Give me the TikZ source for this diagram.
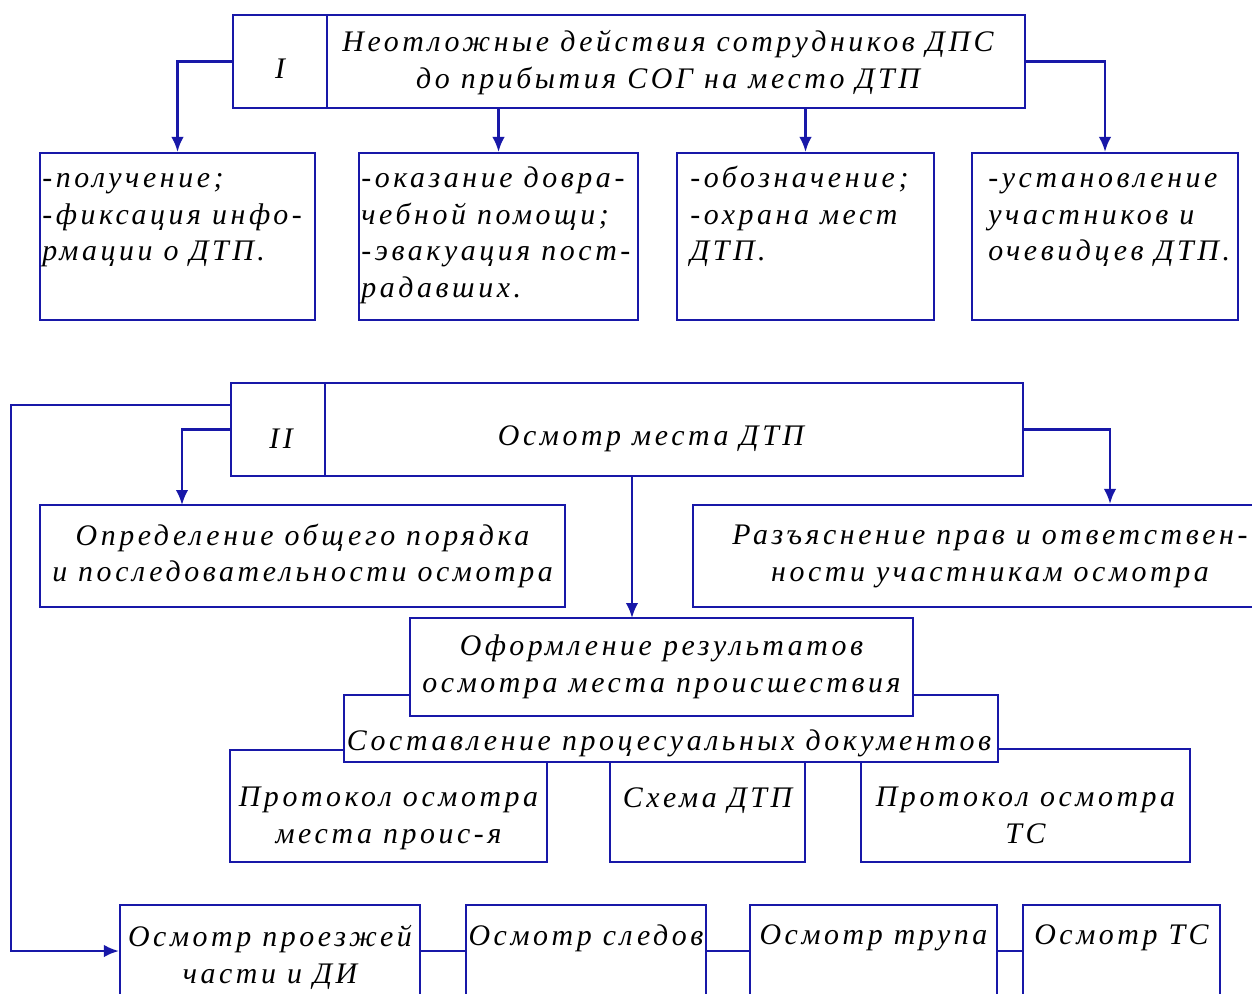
\documentclass[tikz,border=0pt]{standalone}
\usepackage{fontspec}
\setmainfont{Liberation Serif}[LetterSpace=12]
\usepackage{tikz}
\usetikzlibrary{arrows.meta}
\definecolor{schemeblue}{RGB}{24,24,168}
\tikzstyle{box}=[draw=schemeblue, line width=1.2pt, fill=white, inner sep=0pt, font=\fontsize{17}{21}\selectfont\itshape, align=center]
\tikzstyle{boxsize}=[minimum width=#1*0.02cm]
\tikzstyle{boxh}=[minimum height=#1*0.02cm]
\tikzstyle{txt}=[inner sep=0pt, font=\fontsize{17}{21}\selectfont\itshape, align=left]
\tikzstyle{arrow}=[draw=schemeblue, line width=1.4pt, -{Latex[length=3mm, width=2.5mm]}]
\tikzstyle{link}=[draw=schemeblue, line width=1.4pt]

\begin{document}
\begin{tikzpicture}[x=0.02cm, y=-0.02cm]
		\useasboundingbox (0,0) rectangle (1252,994);
		\fill[white] (0,0) rectangle (1252,994);
		\clip (0,0) rectangle (1252,994);

		\node (numI) at (280,61.5)[box, boxsize=94, boxh=93] {};
		\node (headI) at (676,61.5)[box, boxsize=698, boxh=93] {};
		\node (numIt) at (280,69)[txt] {I};
		\node (headIt) at (668,63)[txt, align=center] {Неотложные действия сотрудников ДПС\\до прибытия СОГ на место ДТП};

		\node (b1) at (177.5,236.5)[box, boxsize=275, boxh=167] {};
		\node (b2) at (498.5,236.5)[box, boxsize=279, boxh=167] {};
		\node (b3) at (805.5,236.5)[box, boxsize=257, boxh=167] {};
		\node (b4) at (1105,236.5)[box, boxsize=266, boxh=167] {};
		\node (b1t) at (42,161)[txt, anchor=north west] {\strut-получение;\\-фиксация инфо-\\рмации о ДТП.};
		\node (b2t) at (361,161)[txt, anchor=north west] {\strut-оказание довра-\\чебной помощи;\\-эвакуация пост-\\радавших.};
		\node (b3t) at (690,161)[txt, anchor=north west] {\strut-обозначение;\\-охрана мест\\ДТП.};
		\node (b4t) at (988,161)[txt, anchor=north west] {\strut-установление\\участников и\\очевидцев ДТП.};

		\draw[arrow] (numI.west) -| (b1.north);
		\draw[arrow] (headI.south -| b2.north) -- (b2.north);
		\draw[arrow] (headI.south -| b3.north) -- (b3.north);
		\draw[arrow] (headI.east) -| (b4.north);

		\node (numII) at (278,429.5)[box, boxsize=94, boxh=93] {};
		\node (headII) at (674,429.5)[box, boxsize=698, boxh=93] {};
		\node (numIIt) at (281,439)[txt] {II};
		\node (headIIt) at (651,439)[txt] {Осмотр места ДТП};

		\node (opr) at (302.5,556)[box, boxsize=525, boxh=102] {Определение общего порядка\\и последовательности осмотра};
		\node (raz) at (1110,556)[box, boxsize=834, boxh=102] {};
		\node (razt) at (990,556)[txt, align=center] {Разъяснение прав и ответствен-\\ности участникам осмотра};

		\node (pro1) at (388.5,806)[box, boxsize=317, boxh=112] {};
		\node (proTS) at (1025.5,805.5)[box, boxsize=329, boxh=113] {};
		\node (pro1t) at (388.5,818)[txt, align=center] {Протокол осмотра\\места проис-я};
		\node (proTSt) at (1025.5,815)[txt, align=center] {Протокол осмотра\\ТС};
		\node (sost) at (671,728.5)[box, boxsize=654, boxh=67] {};
		\node (sostt) at (669,743)[txt] {Составление процесуальных документов};
		\node (ofor) at (661.5,667)[box, boxsize=503, boxh=98] {Оформление результатов\\осмотра места происшествия};
		\node (shema) at (707.5,812)[box, boxsize=195, boxh=100] {};
		\node (shemat) at (707.5,801)[txt] {Схема ДТП};

		\coordinate (oprin) at (182,505);
		\coordinate (oforin) at (632,618);
		\coordinate (loopa) at (231,405);
		\coordinate (loopb) at (11,405);

		\node (ins1) at (270,951)[box, boxsize=300, boxh=92] {};
		\node (ins2) at (586,951)[box, boxsize=240, boxh=92] {};
		\node (ins3) at (873.5,951)[box, boxsize=247, boxh=92] {};
		\node (ins4) at (1121.5,951)[box, boxsize=197, boxh=92] {};
		\node (ins1t) at (270,957)[txt, align=center] {Осмотр проезжей\\части и ДИ};
		\node (ins2t) at (586,938)[txt] {Осмотр следов};
		\node (ins3t) at (873.5,938)[txt] {Осмотр трупа};
		\node (ins4t) at (1121.5,938)[txt] {Осмотр ТС};

		\draw[arrow] (numII.west) -| (oprin);
		\draw[arrow] (headII.east) -| (raz.north);
		\draw[arrow] (headII.south -| oforin) -- (oforin);
		\draw[arrow] (loopa) -- (loopb) |- (ins1.west);
		\draw[link] (ins1.east) -- (ins2.west);
		\draw[link] (ins2.east) -- (ins3.west);
		\draw[link] (ins3.east) -- (ins4.west);
\end{tikzpicture}
\end{document}
